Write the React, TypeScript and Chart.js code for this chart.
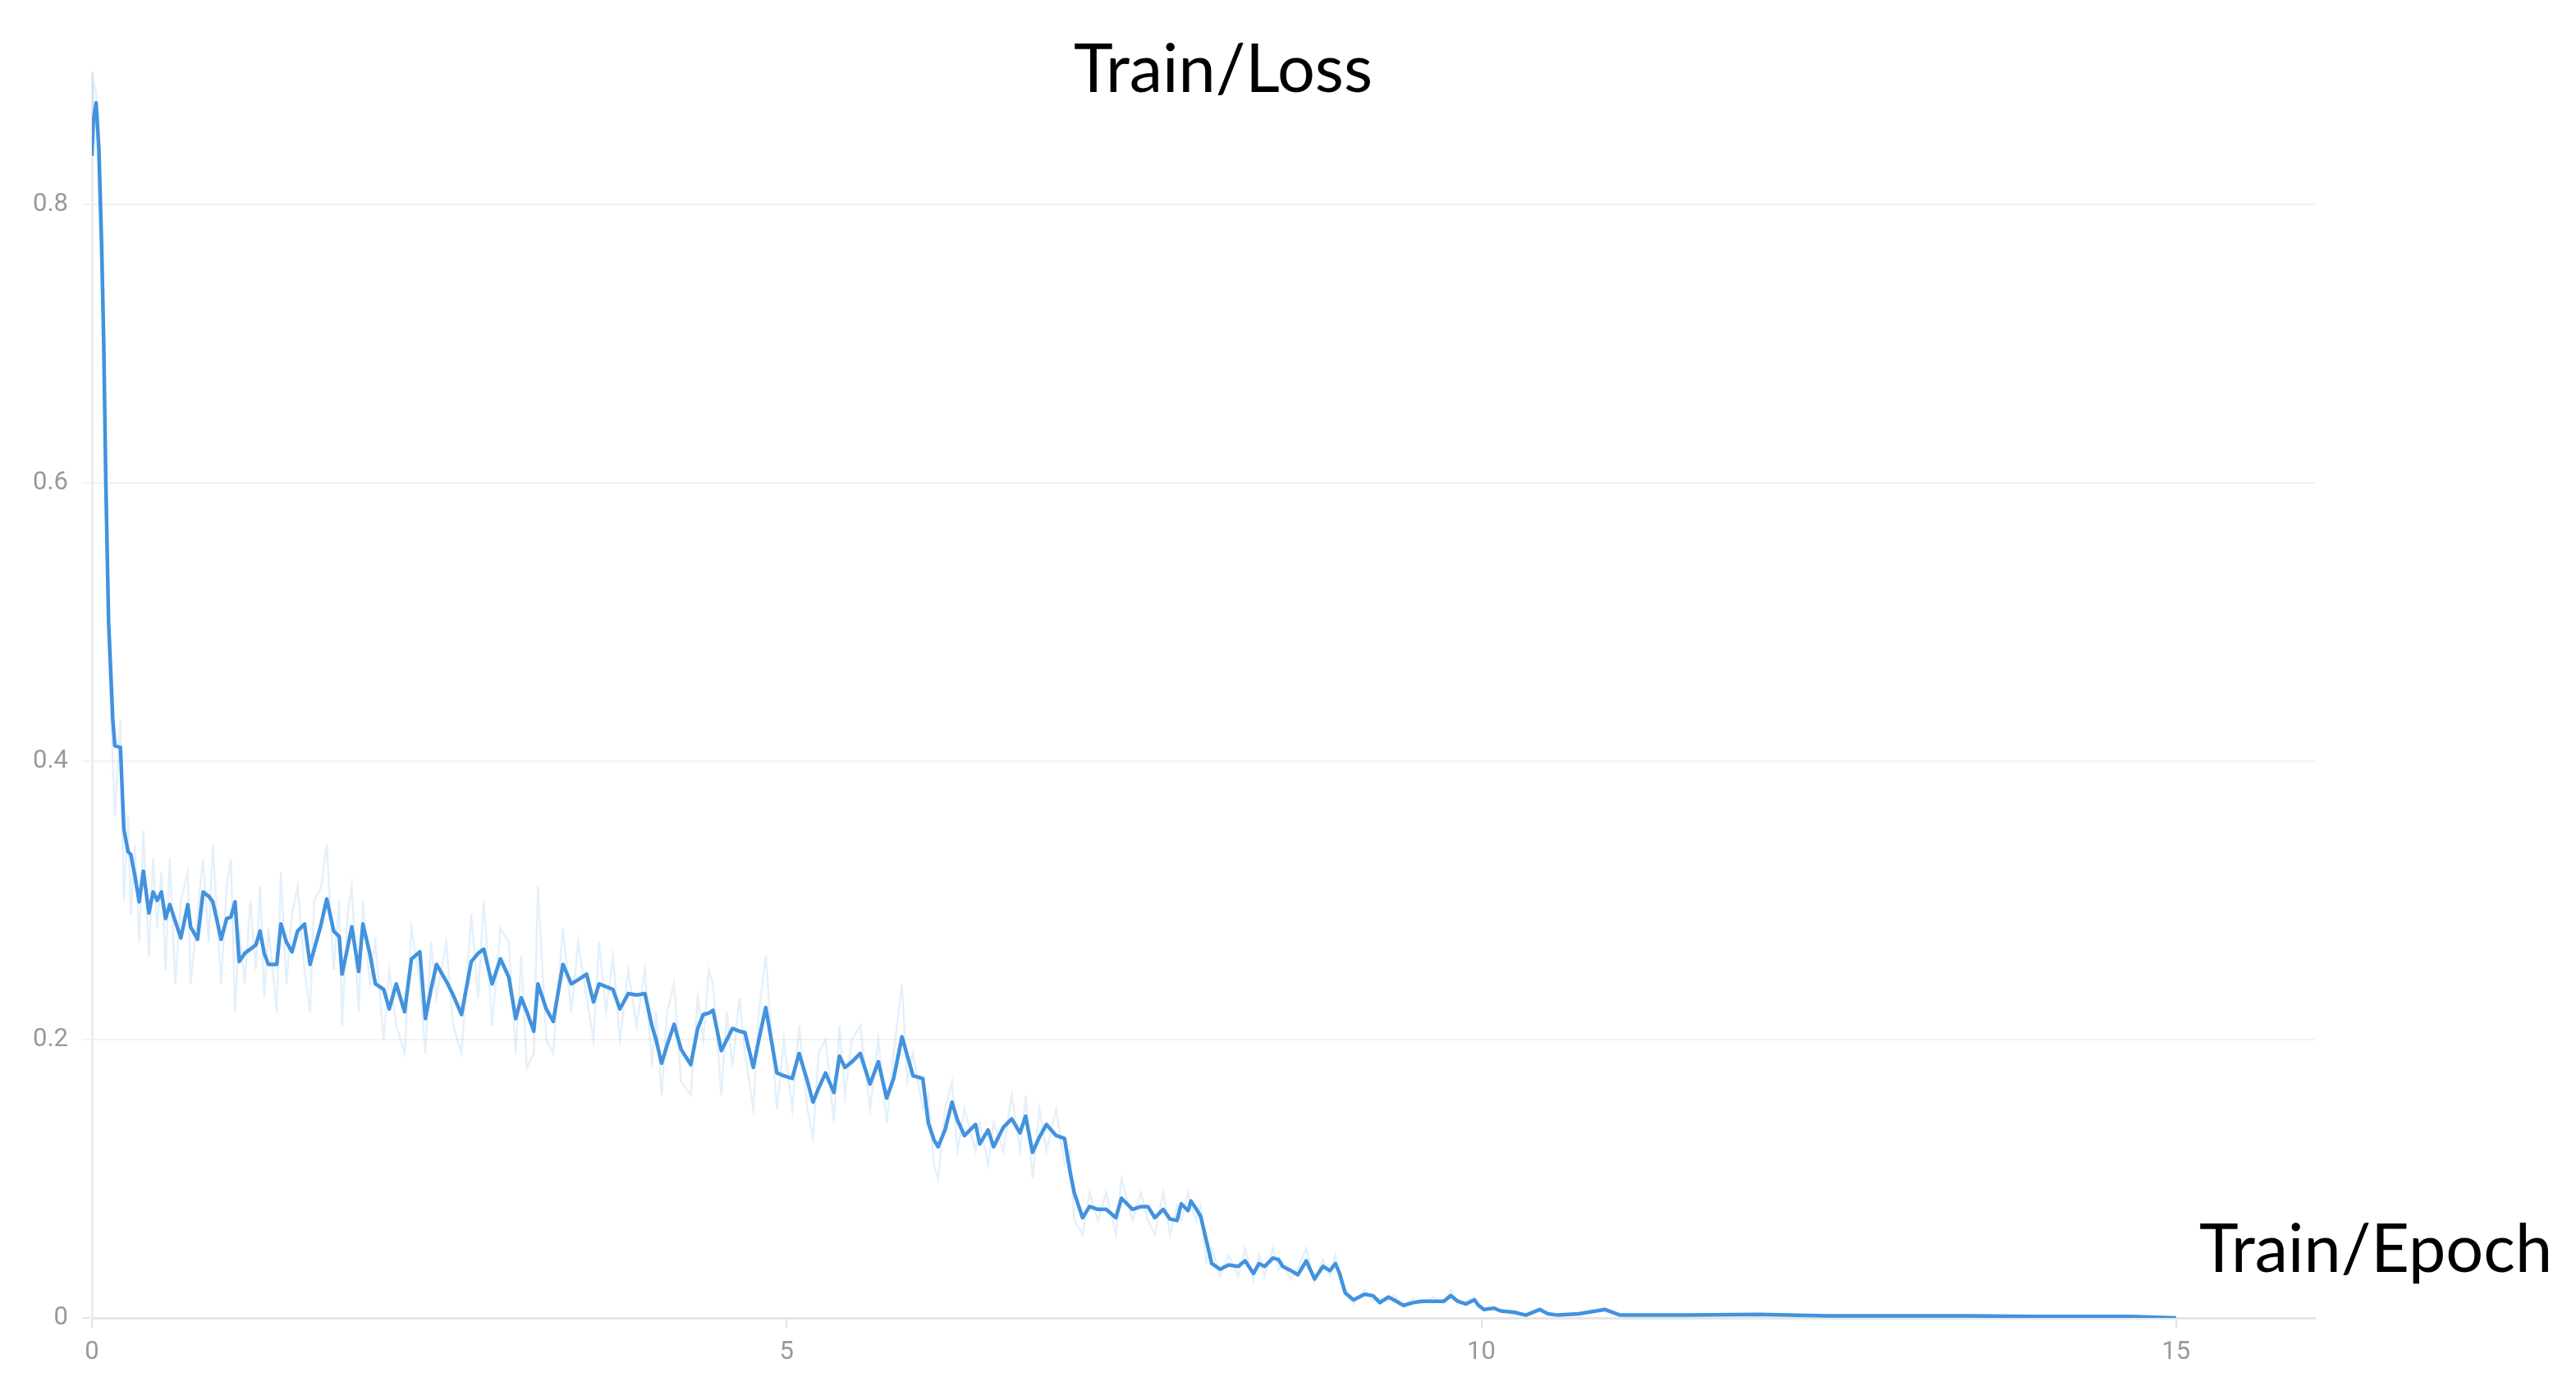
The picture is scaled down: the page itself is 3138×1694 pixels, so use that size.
import React, { useEffect, useRef } from "react";
import { Chart, registerables } from "chart.js";

Chart.register(...registerables);

const epochs = [
  0, 0.01, 0.03, 0.05, 0.07, 0.085, 0.10, 0.12, 0.15, 0.165,
  0.205, 0.23, 0.26, 0.28, 0.31, 0.34, 0.37, 0.41, 0.44, 0.47,
  0.50, 0.53, 0.56, 0.60, 0.64, 0.69, 0.71, 0.76, 0.80, 0.84,
  0.87, 0.93, 0.97, 1.00, 1.03, 1.06, 1.10, 1.14, 1.18, 1.21,
  1.24, 1.27, 1.33, 1.36, 1.40, 1.44, 1.48, 1.53, 1.57, 1.60,
  1.65, 1.69, 1.74, 1.78, 1.80, 1.84, 1.87, 1.92, 1.95, 2.00,
  2.04, 2.10, 2.14, 2.19, 2.25, 2.30, 2.36, 2.40, 2.44, 2.48,
  2.55, 2.60, 2.66, 2.73, 2.78, 2.82, 2.88, 2.94, 3.00, 3.05,
  3.09, 3.13, 3.18, 3.21, 3.27, 3.32, 3.39, 3.45, 3.50, 3.56,
  3.61, 3.65, 3.70, 3.75, 3.80, 3.86, 3.92, 3.98, 4.03, 4.06,
  4.10, 4.14, 4.19, 4.24, 4.31, 4.36, 4.40, 4.44, 4.47, 4.53,
  4.57, 4.61, 4.66, 4.70, 4.76, 4.80, 4.85, 4.93, 4.98, 5.04,
  5.09, 5.15, 5.19, 5.23, 5.28, 5.34, 5.38, 5.42, 5.47, 5.53,
  5.60, 5.66, 5.72, 5.77, 5.83, 5.87, 5.91, 5.98, 6.02, 6.06,
  6.09, 6.14, 6.19, 6.23, 6.28, 6.36, 6.39, 6.45, 6.49, 6.56,
  6.62, 6.68, 6.72, 6.77, 6.82, 6.87, 6.94, 7.00, 7.04, 7.07,
  7.13, 7.18, 7.24, 7.30, 7.37, 7.41, 7.49, 7.55, 7.60, 7.65,
  7.71, 7.76, 7.81, 7.84, 7.89, 7.91, 7.95, 7.98, 8.02, 8.06,
  8.12, 8.18, 8.25, 8.30, 8.36, 8.40, 8.44, 8.50, 8.54, 8.57,
  8.63, 8.68, 8.74, 8.80, 8.86, 8.91, 8.95, 8.98, 9.02, 9.08,
  9.16, 9.22, 9.27, 9.33, 9.37, 9.44, 9.51, 9.57, 9.65, 9.73,
  9.78, 9.83, 9.89, 9.95, 9.98, 10.02, 10.09, 10.14, 10.24, 10.32,
  10.42, 10.48, 10.55, 10.70, 10.89, 11.0, 11.5, 12.0, 12.5, 13.0,
  13.5, 14.0, 14.67, 15.0,
];

const smoothedLoss = [
  0.835, 0.86, 0.873, 0.84, 0.77, 0.70, 0.60, 0.50, 0.43, 0.411,
  0.410, 0.351, 0.335, 0.333, 0.317, 0.299, 0.321, 0.291, 0.306, 0.300,
  0.306, 0.287, 0.297, 0.285, 0.273, 0.297, 0.281, 0.272, 0.306, 0.303,
  0.299, 0.272, 0.287, 0.288, 0.299, 0.256, 0.262, 0.265, 0.268, 0.278,
  0.262, 0.254, 0.254, 0.283, 0.270, 0.263, 0.278, 0.283, 0.254, 0.265,
  0.283, 0.301, 0.278, 0.274, 0.247, 0.266, 0.281, 0.249, 0.283, 0.262,
  0.240, 0.236, 0.222, 0.240, 0.220, 0.258, 0.263, 0.215, 0.236, 0.254,
  0.242, 0.232, 0.218, 0.256, 0.262, 0.265, 0.240, 0.258, 0.245, 0.215,
  0.230, 0.220, 0.206, 0.240, 0.222, 0.213, 0.254, 0.240, 0.243, 0.247,
  0.227, 0.240, 0.238, 0.236, 0.222, 0.233, 0.232, 0.233, 0.210, 0.200,
  0.183, 0.196, 0.211, 0.193, 0.182, 0.208, 0.218, 0.219, 0.221, 0.192,
  0.200, 0.208, 0.206, 0.205, 0.180, 0.200, 0.223, 0.176, 0.174, 0.172,
  0.190, 0.170, 0.155, 0.165, 0.176, 0.162, 0.188, 0.180, 0.184, 0.190,
  0.168, 0.184, 0.158, 0.172, 0.202, 0.188, 0.174, 0.172, 0.140, 0.128,
  0.123, 0.135, 0.155, 0.142, 0.131, 0.139, 0.125, 0.135, 0.123, 0.137,
  0.143, 0.133, 0.145, 0.119, 0.130, 0.139, 0.131, 0.129, 0.105, 0.090,
  0.072, 0.080, 0.078, 0.078, 0.072, 0.086, 0.078, 0.080, 0.080, 0.072,
  0.078, 0.071, 0.070, 0.082, 0.077, 0.084, 0.078, 0.073, 0.056, 0.039,
  0.035, 0.038, 0.037, 0.041, 0.032, 0.039, 0.037, 0.043, 0.042, 0.037,
  0.034, 0.031, 0.041, 0.028, 0.037, 0.034, 0.039, 0.032, 0.018, 0.013,
  0.017, 0.016, 0.011, 0.015, 0.013, 0.009, 0.011, 0.012, 0.012, 0.012,
  0.016, 0.012, 0.010, 0.013, 0.009, 0.006, 0.007, 0.005, 0.004, 0.002,
  0.006, 0.003, 0.002, 0.003, 0.006, 0.002, 0.002, 0.0025, 0.0015, 0.0015,
  0.0015, 0.001, 0.001, 0.0,
];

const rawLoss = [
  0.84, 0.89, 0.88, 0.80, 0.74, 0.68, 0.58, 0.48, 0.40, 0.36,
  0.43, 0.30, 0.36, 0.29, 0.34, 0.27, 0.35, 0.26, 0.33, 0.28,
  0.32, 0.25, 0.33, 0.24, 0.30, 0.32, 0.24, 0.29, 0.33, 0.27,
  0.34, 0.24, 0.31, 0.33, 0.22, 0.28, 0.24, 0.30, 0.25, 0.31,
  0.23, 0.28, 0.22, 0.32, 0.24, 0.29, 0.31, 0.25, 0.22, 0.30,
  0.31, 0.34, 0.25, 0.30, 0.21, 0.29, 0.31, 0.22, 0.30, 0.24,
  0.27, 0.20, 0.25, 0.21, 0.19, 0.28, 0.24, 0.19, 0.27, 0.23,
  0.27, 0.21, 0.19, 0.29, 0.23, 0.30, 0.21, 0.28, 0.27, 0.19,
  0.26, 0.18, 0.19, 0.31, 0.20, 0.19, 0.28, 0.22, 0.27, 0.23,
  0.20, 0.27, 0.22, 0.26, 0.20, 0.25, 0.21, 0.25, 0.18, 0.22,
  0.16, 0.22, 0.24, 0.17, 0.16, 0.23, 0.20, 0.25, 0.24, 0.16,
  0.22, 0.18, 0.23, 0.19, 0.15, 0.22, 0.26, 0.15, 0.20, 0.15,
  0.21, 0.15, 0.13, 0.19, 0.20, 0.14, 0.21, 0.16, 0.20, 0.21,
  0.15, 0.20, 0.14, 0.19, 0.24, 0.17, 0.19, 0.15, 0.16, 0.11,
  0.10, 0.15, 0.17, 0.12, 0.15, 0.12, 0.14, 0.11, 0.14, 0.12,
  0.16, 0.12, 0.16, 0.10, 0.15, 0.12, 0.15, 0.11, 0.12, 0.07,
  0.06, 0.09, 0.07, 0.09, 0.06, 0.10, 0.07, 0.09, 0.07, 0.06,
  0.09, 0.06, 0.08, 0.07, 0.09, 0.08, 0.07, 0.08, 0.04, 0.05,
  0.03, 0.045, 0.03, 0.05, 0.027, 0.045, 0.03, 0.05, 0.035, 0.04,
  0.028, 0.036, 0.05, 0.025, 0.042, 0.03, 0.045, 0.028, 0.02, 0.01,
  0.02, 0.012, 0.014, 0.012, 0.016, 0.008, 0.014, 0.01, 0.015, 0.01,
  0.02, 0.01, 0.012, 0.015, 0.008, 0.005, 0.008, 0.004, 0.005, 0.002,
  0.007, 0.003, 0.002, 0.003, 0.007, 0.002, 0.002, 0.002, 0.0015, 0.0015,
  0.0015, 0.001, 0.001, 0.0,
];

const xTicks = [0, 5, 10, 15];
const yTicks = [0, 0.2, 0.4, 0.6, 0.8];
const chartTitle = "Train/Loss";
const xAxisTitle = "Train/Epoch";

export default function App() {
  const ref = useRef<HTMLCanvasElement | null>(null);

  useEffect(() => {
    document.body.style.margin = "0";
    const canvas = ref.current;
    if (!canvas) return;

    const textPlugin = {
      id: "freeTitles",
      afterDraw(chart: any) {
        const ctx = chart.ctx;
        ctx.save();
        ctx.fillStyle = "#000000";
        ctx.font = "81px Lato";
        ctx.textBaseline = "alphabetic";
        ctx.textAlign = "center";
        ctx.fillText(chartTitle, 1490, 112);
        ctx.font = "81px Lato";
        ctx.textAlign = "left";
        ctx.fillText(xAxisTitle, 2679, 1549);
        ctx.restore();
      },
    };

    const chart = new Chart(canvas, {
      type: "line",
      data: {
        datasets: [
          {
            label: "smoothed",
            data: epochs.map((x, i) => ({ x, y: smoothedLoss[i] })),
            borderColor: "rgb(66,146,222)",
            borderWidth: 4.5,
            pointRadius: 0,
            tension: 0,
            borderJoinStyle: "round",
          },
          {
            label: "raw",
            data: epochs.map((x, i) => ({ x, y: rawLoss[i] })),
            borderColor: "rgba(66,146,222,0.14)",
            borderWidth: 2.5,
            pointRadius: 0,
            tension: 0,
          },
        ],
      },
      options: {
        animation: false,
        responsive: false,
        layout: { padding: { left: 0, right: 318, top: 88, bottom: 0 } },
        plugins: {
          legend: { display: false },
          tooltip: { enabled: false },
          title: { display: false },
        },
        scales: {
          x: {
            type: "linear",
            min: 0,
            max: 16,
            afterBuildTicks: (s: any) => {
              s.ticks = xTicks.map((v) => ({ value: v }));
            },
            afterFit: (s: any) => {
              s.height = 89;
            },
            grid: {
              drawOnChartArea: false,
              drawTicks: true,
              tickLength: 12,
              color: "#e2e2e2",
              lineWidth: 2,
            },
            border: { color: "#e6e6e6", width: 3 },
            ticks: {
              color: "#999999",
              font: { family: "Roboto", size: 31 },
              padding: 12,
              maxRotation: 0,
              autoSkip: false,
              callback: (v: any) => String(v),
            },
          },
          y: {
            type: "linear",
            min: 0,
            max: 0.895,
            afterBuildTicks: (s: any) => {
              s.ticks = yTicks.map((v) => ({ value: v }));
            },
            afterFit: (s: any) => {
              s.width = 112;
            },
            grid: {
              color: (c: any) => (c.tick && c.tick.value === 0 ? "#e6e6e6" : "#f2f2f2"),
              lineWidth: 2,
              tickLength: 12,
            },
            border: { color: "#ececec", width: 3 },
            ticks: {
              color: "#999999",
              font: { family: "Roboto", size: 31 },
              padding: 17,
              callback: (v: any) => (v === 0 ? "0" : Number(v).toFixed(1)),
            },
          },
        },
      },
      plugins: [textPlugin],
    } as any);

    return () => {
      chart.destroy();
    };
  }, []);

  return (
    <div style={{ position: "fixed", left: 0, top: 0, width: 3138, height: 1694, background: "#ffffff" }}>
      <canvas ref={ref} width={3138} height={1694} style={{ display: "block", width: 3138, height: 1694 }} />
    </div>
  );
}
